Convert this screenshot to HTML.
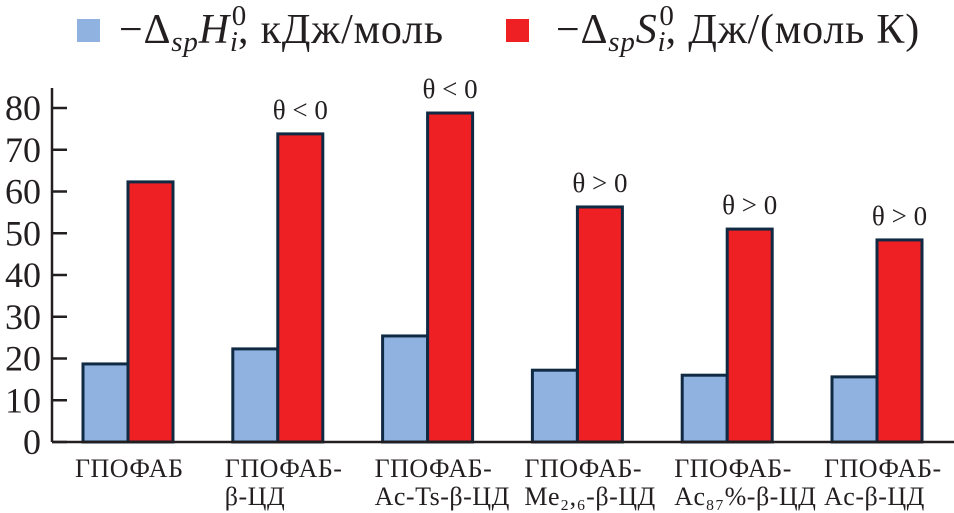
<!DOCTYPE html>
<html><head><meta charset="utf-8"><style>
body{margin:0;background:#fff;}
svg{display:block;font-family:"Liberation Serif",serif;}
</style></head><body>
<svg id="c" width="954" height="513">
<g>
<rect x="77" y="19" width="23" height="23" fill="#8fb2e0"/>
<text x="119" y="43" font-size="42" letter-spacing="0.8" fill="#231f20">−Δ<tspan font-style="italic" font-size="29" dy="8">sp</tspan><tspan font-style="italic" dy="-8">H</tspan><tspan font-style="italic" font-size="29" dy="8">i</tspan><tspan font-size="29" dx="-7" dy="-26">0</tspan><tspan dy="18" dx="-9">, кДж/моль</tspan></text>
<rect x="506" y="19" width="23" height="23" fill="#ee2024"/>
<text x="556" y="43" font-size="42" letter-spacing="0.8" fill="#231f20">−Δ<tspan font-style="italic" font-size="29" dy="8">sp</tspan><tspan font-style="italic" dy="-8">S</tspan><tspan font-style="italic" font-size="29" dy="8">i</tspan><tspan font-size="29" dx="-7" dy="-26">0</tspan><tspan dy="18" dx="-9">, Дж/(моль К)</tspan></text>
</g>
<g id="plot"></g>
</svg>
<script>
const categoriesLine1=["ГПОФАБ","ГПОФАБ-","ГПОФАБ-","ГПОФАБ-","ГПОФАБ-","ГПОФАБ-"];
const categoriesLine2=["","β-ЦД","Ac-Ts-β-ЦД","Me₂,₆-β-ЦД","Ac₈₇%-β-ЦД","Ac-β-ЦД"];
const enthalpy=[18.7,22.3,25.4,17.2,16.0,15.6];
const entropy=[62.3,73.8,78.8,56.3,51.0,48.4];
const annotations=["","θ < 0","θ < 0","θ > 0","θ > 0","θ > 0"];
const yTicks=[0,10,20,30,40,50,60,70,80];
const NS="http://www.w3.org/2000/svg";
const g=document.getElementById('plot');
const y0=442,pxPer=4.175;
const y=v=>y0-v*pxPer;
const gx=i=>83+i*149.8;
const bw=45;
function mk(t,a){const e=document.createElementNS(NS,t);for(const k in a)e.setAttribute(k,a[k]);g.appendChild(e);return e;}
let ax=mk('line',{x1:52,y1:88,x2:52,y2:y0,stroke:'#231f20','stroke-width':2.5});


yTicks.forEach(t=>{
 let l=mk('line',{x1:52,y1:y(t),x2:67,y2:y(t),stroke:'#231f20','stroke-width':2.5});
 
 
 let tx=mk('text',{x:41,y:y(t)+12,'font-size':36,'text-anchor':'end',fill:'#231f20'});
 tx.textContent=t;
 
 
});
enthalpy.forEach((v,i)=>{
 let x=gx(i);
 let b=mk('rect',{x:x,y:y(v),width:bw,height:y0-y(v),fill:'#8fb2e0',stroke:'#102a44','stroke-width':3});
 
 
 let r=mk('rect',{x:x+bw,y:y(entropy[i]),width:bw,height:y0-y(entropy[i]),fill:'#ee2024',stroke:'#102a44','stroke-width':3});
 
 
 if(annotations[i]){
  let a=mk('text',{x:x+bw*1.5,y:y(entropy[i])-15,'font-size':27,'text-anchor':'middle',fill:'#231f20'});
  a.textContent=annotations[i];
  
  
 }
 let l1=mk('text',{x:x-8,y:477,'font-size':26,fill:'#231f20','letter-spacing':'0.5'});
 l1.textContent=categoriesLine1[i];
 
 
 if(categoriesLine2[i]){
  let l2=mk('text',{x:x-8,y:505,'font-size':26,fill:'#231f20','letter-spacing':'0.5'});
  l2.textContent=categoriesLine2[i];
  
  
 }
});
let xa=mk('line',{x1:52,y1:y0,x2:954,y2:y0,stroke:'#231f20','stroke-width':2.5});


</script>
</body></html>
